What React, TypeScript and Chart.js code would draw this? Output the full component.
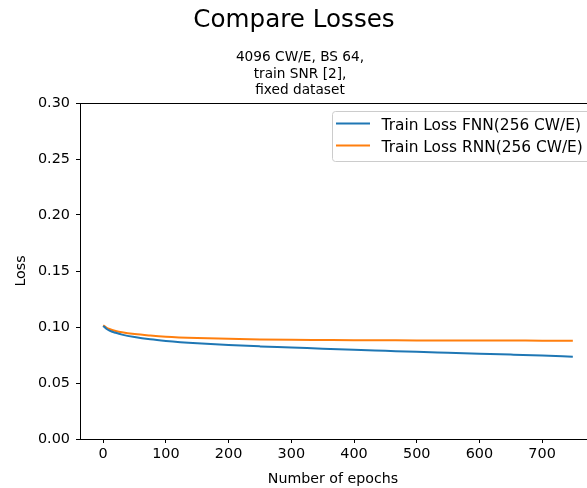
import React, { useEffect, useRef } from "react";
import { Chart, registerables } from "chart.js";

Chart.register(...registerables);

const suptitle = "Compare Losses";
const subtitleLines = ["4096 CW/E, BS 64,", "train SNR [2],", "fixed dataset"];
const xLabel = "Number of epochs";
const yLabel = "Loss";

const epochs = [0, 5, 10, 20, 30, 50, 75, 100, 150, 200, 250, 300, 350, 400, 450, 500, 550, 600, 650, 700, 749];
const fnnLoss = [0.101, 0.0985, 0.0968, 0.0948, 0.0932, 0.091, 0.089, 0.0876, 0.0855, 0.0839, 0.0827, 0.0817, 0.0806, 0.0796, 0.0787, 0.0778, 0.077, 0.0762, 0.0754, 0.0745, 0.0734];
const rnnLoss = [0.1015, 0.0995, 0.0982, 0.0965, 0.0953, 0.0937, 0.0924, 0.0914, 0.0902, 0.0894, 0.0889, 0.0886, 0.0884, 0.0882, 0.0881, 0.088, 0.088, 0.0879, 0.0879, 0.0878, 0.0878];

const seriesLabels = ["Train Loss FNN(256 CW/E)", "Train Loss RNN(256 CW/E)"];
const seriesColors = ["#1f77b4", "#ff7f0e"];

const xTicks = [0, 100, 200, 300, 400, 500, 600, 700];
const yTicks = [0, 0.05, 0.1, 0.15, 0.2, 0.25, 0.3];

const FONT = "'DejaVu Sans', sans-serif";

const decorPlugin = {
  id: "decor",
  afterDraw(chart: any) {
    const { ctx, chartArea } = chart;
    const ca = chartArea;
    ctx.save();
    // top spine
    ctx.strokeStyle = "#000";
    ctx.lineWidth = 1;
    ctx.beginPath();
    ctx.moveTo(ca.left, Math.round(ca.top) + 0.5);
    ctx.lineTo(ca.right, Math.round(ca.top) + 0.5);
    ctx.stroke();

    ctx.fillStyle = "#000";
    ctx.textAlign = "center";
    ctx.textBaseline = "alphabetic";
    // suptitle
    ctx.font = `24.6px ${FONT}`;
    ctx.fillText(suptitle, 294, 27);
    // subtitle
    ctx.font = `13.7px ${FONT}`;
    const base = [61, 78, 94];
    subtitleLines.forEach((l, i) => ctx.fillText(l, 300, base[i]));
    // x label
    ctx.font = `14.2px ${FONT}`;
    ctx.fillText(xLabel, 333, 482.5);
    // y label
    ctx.save();
    ctx.translate(24.5, 271);
    ctx.rotate(-Math.PI / 2);
    ctx.fillText(yLabel, 0, 0);
    ctx.restore();

    // legend
    const lx = 332.5, ly = 111.5, lw = 270, lh = 50;
    ctx.beginPath();
    const r = 3;
    ctx.moveTo(lx + r, ly);
    ctx.lineTo(lx + lw - r, ly);
    ctx.arcTo(lx + lw, ly, lx + lw, ly + r, r);
    ctx.lineTo(lx + lw, ly + lh - r);
    ctx.arcTo(lx + lw, ly + lh, lx + lw - r, ly + lh, r);
    ctx.lineTo(lx + r, ly + lh);
    ctx.arcTo(lx, ly + lh, lx, ly + lh - r, r);
    ctx.lineTo(lx, ly + r);
    ctx.arcTo(lx, ly, lx + r, ly, r);
    ctx.closePath();
    ctx.fillStyle = "rgba(255,255,255,0.8)";
    ctx.fill();
    ctx.strokeStyle = "#cccccc";
    ctx.stroke();

    ctx.textAlign = "left";
    ctx.font = `15.4px ${FONT}`;
    chart.data.datasets.forEach((ds: any, i: number) => {
      const y = 123.5 + i * 22;
      ctx.strokeStyle = ds.borderColor;
      ctx.lineWidth = 2;
      ctx.beginPath();
      ctx.moveTo(336, y);
      ctx.lineTo(370, y);
      ctx.stroke();
      ctx.fillStyle = "#000";
      ctx.fillText(ds.label, 381.5, y + 6.5);
    });
    ctx.restore();
  },
};

export default function App() {
  const ref = useRef<HTMLCanvasElement>(null);
  useEffect(() => {
    if (!ref.current) return;
    Chart.defaults.font.family = FONT;
    Chart.defaults.font.size = 14.4;
    Chart.defaults.color = "#000";
    const chart = new Chart(ref.current, {
      type: "line",
      data: {
        datasets: [fnnLoss, rnnLoss].map((vals, i) => ({
          label: seriesLabels[i],
          data: epochs.map((e, j) => ({ x: e, y: vals[j] })),
          borderColor: seriesColors[i],
          backgroundColor: seriesColors[i],
          borderWidth: 2,
          pointRadius: 0,
          cubicInterpolationMode: "monotone" as const,
          fill: false,
        })),
      },
      options: {
        animation: false,
        responsive: false,
        devicePixelRatio: 1,
        layout: { padding: { top: 103, left: 0, right: 0, bottom: 0 } },
        plugins: {
          legend: { display: false },
          title: { display: false },
          tooltip: { enabled: false },
        },
        scales: {
          x: {
            type: "linear",
            min: -37,
            max: 771.6,
            afterBuildTicks: (s: any) => {
              s.ticks = xTicks.map((v) => ({ value: v }));
            },
            afterFit: (s: any) => {
              s.height = 49;
            },
            ticks: {
              callback: (v: any) => String(v),
              padding: 3,
              maxRotation: 0,
              autoSkip: false,
            },
            grid: { drawOnChartArea: false, drawTicks: true, tickLength: 4, color: "#000" },
            border: { display: true, color: "#000", width: 1 },
          },
          y: {
            type: "linear",
            min: 0,
            max: 0.3,
            afterBuildTicks: (s: any) => {
              s.ticks = yTicks.map((v) => ({ value: v }));
            },
            afterFit: (s: any) => {
              s.width = 80;
            },
            ticks: {
              callback: (v: any) => Number(v).toFixed(2),
              padding: 6,
              autoSkip: false,
            },
            grid: { drawOnChartArea: false, drawTicks: true, tickLength: 4, color: "#000" },
            border: { display: true, color: "#000", width: 1 },
          },
        },
      },
      plugins: [decorPlugin],
    });
    return () => chart.destroy();
  }, []);
  return (
    <div style={{ position: "absolute", left: 0, top: 0, width: 587, height: 488, background: "#fff" }}>
      <canvas ref={ref} width={587} height={488} style={{ display: "block" }} />
    </div>
  );
}
